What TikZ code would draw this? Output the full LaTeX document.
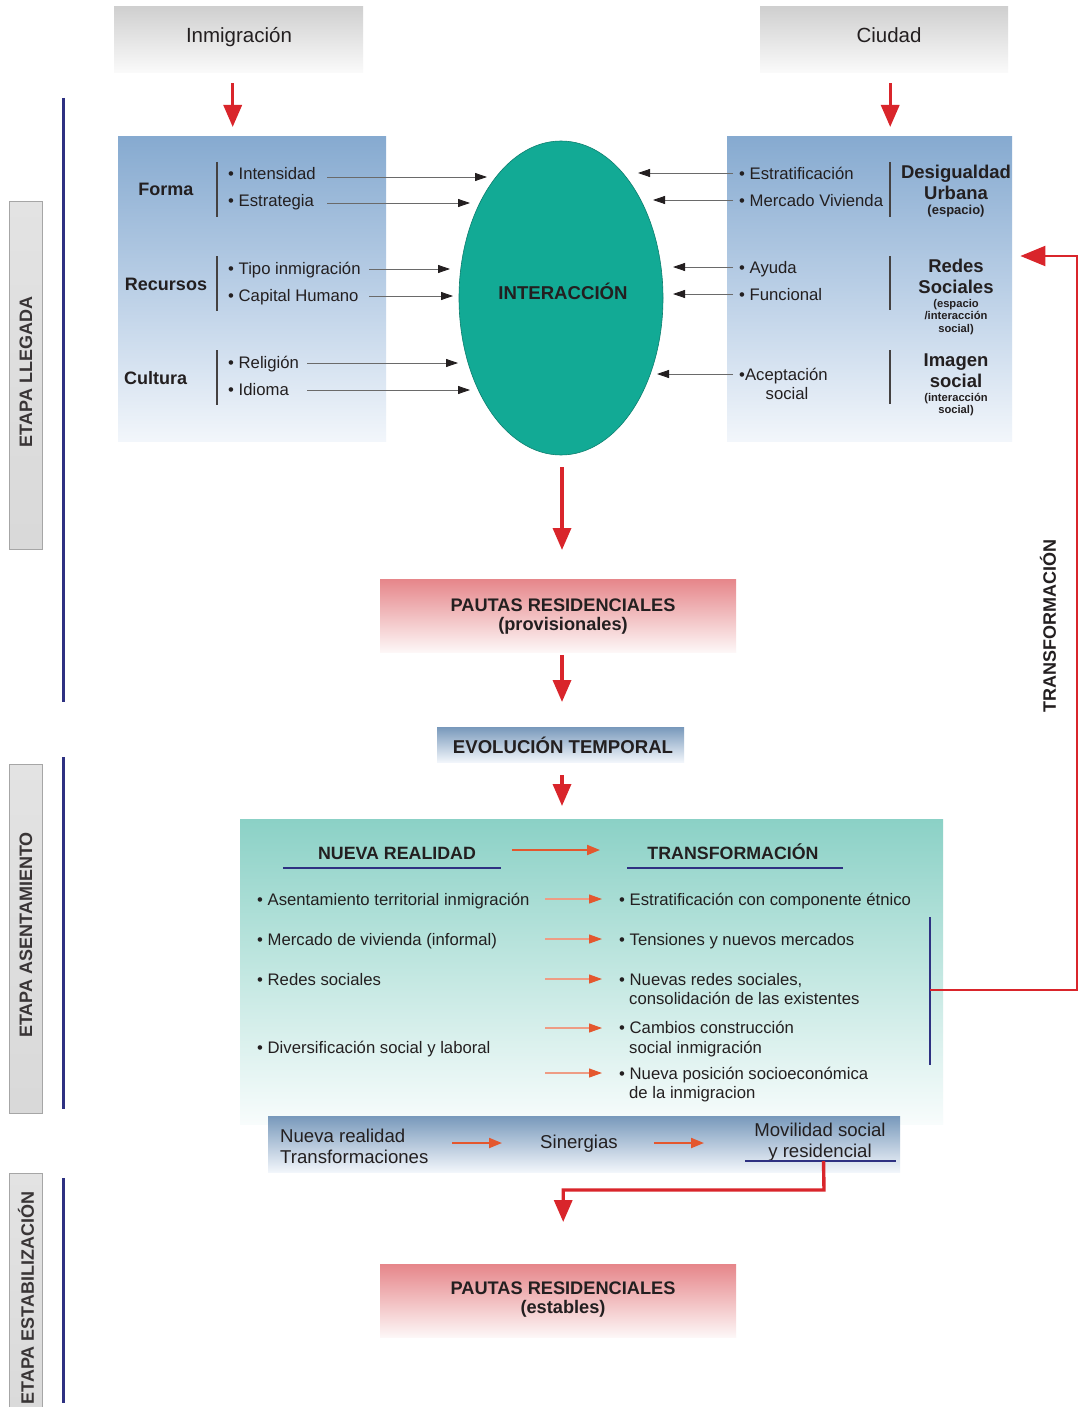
\documentclass[tikz,border=0pt]{standalone}
\usepackage{fontspec}
\setmainfont{Liberation Sans}
\usetikzlibrary{arrows.meta,shapes.geometric,calc}
\definecolor{redA}{HTML}{D9252B}
\definecolor{orangeA}{HTML}{E4572E}
\definecolor{orangeL}{HTML}{EE9C84}
\definecolor{navy}{HTML}{2E3182}
\definecolor{txt}{HTML}{231F20}
\definecolor{blueTop}{HTML}{86AAD0}
\definecolor{blueMid}{HTML}{BACFE6}
\definecolor{blueBot}{HTML}{F2F6FB}
\definecolor{tealTop}{HTML}{8BD1C6}
\definecolor{tealMid}{HTML}{C2E7E1}
\definecolor{tealBot}{HTML}{F8FCFC}
\definecolor{redTop}{HTML}{E6868A}
\definecolor{redBot}{HTML}{FDF7F7}
\definecolor{grayTop}{HTML}{CFCFCF}
\definecolor{grayBot}{HTML}{FAFAFA}
\definecolor{ellFill}{HTML}{12AA95}
\definecolor{ellDraw}{HTML}{0C7F6F}
\definecolor{arrGray}{HTML}{6A6A6A}
\newcommand\myfs[1]{\fontsize{#1pt}{#1pt}\selectfont}
\tikzset{
  boxbase/.style={rectangle, inner sep=0pt, draw=none, anchor=north west},
  graybox/.style={boxbase, top color=grayTop, bottom color=grayBot},
  bluebox/.style={boxbase, top color=blueTop, bottom color=blueBot, middle color=blueMid},
  bluebox2/.style={boxbase, top color=blueTop!90!black, bottom color=blueBot},
  tealbox/.style={boxbase, top color=tealTop, bottom color=tealBot, middle color=tealMid},
  redbox/.style={boxbase, top color=redTop, bottom color=redBot},
  stagebox/.style={rectangle, inner sep=0pt, draw=gray!70, line width=0.8pt, top color=gray!22, bottom color=gray!30},
  txtn/.style={inner sep=0pt, text=txt},
  itm/.style={txtn, anchor=base west, font=\myfs{16.7}},
  itmc/.style={txtn, anchor=base, font=\myfs{16.7}},
  bl/.style={txtn, anchor=base, font=\bfseries\myfs{18}},
  blw/.style={txtn, anchor=base west, font=\bfseries\myfs{18}},
  rl/.style={txtn, anchor=base, font=\bfseries\myfs{18.5}},
  sm/.style={txtn, anchor=base, font=\bfseries\myfs{11.2}},
  reg/.style={txtn, anchor=base, font=\myfs{18.6}},
  regw/.style={txtn, anchor=base west, font=\myfs{18.6}},
  stagetxt/.style={txtn, rotate=90, anchor=center, font=\bfseries\myfs{18}, text=txt!90},
  bigred/.style={draw=redA, line width=3.4pt, -{Triangle[length=22pt,width=18pt]}},
  loopred/.style={draw=redA, line width=2.2pt, -{Triangle[length=25pt,width=20pt]}},
  itmarrow/.style={draw=arrGray, line width=0.8pt, -{Triangle[length=12pt,width=8pt,color=txt]}},
  orarrow/.style={draw=orangeL, line width=1.1pt, -{Triangle[length=13pt,width=9pt,color=orangeA]}},
  orbig/.style={draw=orangeA, line width=2pt, -{Triangle[length=13pt,width=10pt,color=orangeA]}},
  barline/.style={draw=txt!85, line width=1.3pt},
  navyline/.style={draw=navy, line width=2pt},
  stageline/.style={draw=navy, line width=3pt},
}
\begin{document}
\begin{tikzpicture}[x=1pt,y=-1pt]
\clip (0,0) rectangle (1078,1407);
\fill[white] (0,0) rectangle (1078,1407);

% ---------- stage labels ----------
\node[stagebox, minimum width=33, minimum height=348] (s1) at (25.5,375) {};
\node[stagetxt] (s1t) at (26,372) {ETAPA LLEGADA};
\node[stagebox, minimum width=33, minimum height=349] (s2) at (25.5,939) {};
\node[stagetxt] (s2t) at (26,935) {ETAPA ASENTAMIENTO};
\node[stagebox, minimum width=33, minimum height=270] (s3) at (25.5,1308) {};
\node[stagetxt] (s3t) at (26,1298) {ETAPA ESTABILIZACIÓN};
\draw[stageline] (63,98) -- (63,702);
\draw[stageline] (63,757) -- (63,1109);
\draw[stageline] (63,1178) -- (63,1403);

% ---------- top boxes ----------
\node[graybox, minimum width=249, minimum height=66] (inmbox) at (114,6) {};
\node[txtn, anchor=base, font=\myfs{20.5}] (inm) at (239,43) {Inmigración};
\node[graybox, minimum width=248, minimum height=66] (ciubox) at (760,6) {};
\node[txtn, anchor=base, font=\myfs{20.5}] (ciu) at (889,43) {Ciudad};

% ---------- left blue box ----------
\node[bluebox, minimum width=268, minimum height=305] (lbox) at (118,136) {};
\node[bl] (forma) at (166,195.5) {Forma};
\node[bl] (recursos) at (166,290.4) {Recursos};
\node[blw] (cultura) at (124,384.4) {Cultura};
\draw[barline] (217,162) -- (217,217);
\draw[barline] (217,256) -- (217,311);
\draw[barline] (217,350) -- (217,405);
\node[itm] (i1) at (228,179) {\textbullet\ Intensidad};
\node[itm] (i2) at (228,207) {\textbullet\ Estrategia};
\node[itm] (i3) at (228,274) {\textbullet\ Tipo inmigración};
\node[itm] (i4) at (228,301) {\textbullet\ Capital Humano};
\node[itm] (i5) at (228,368) {\textbullet\ Religión};
\node[itm] (i6) at (228,395) {\textbullet\ Idioma};

% ---------- right blue box ----------
\node[bluebox, minimum width=285, minimum height=305] (rbox) at (727,136) {};
\node[itm] (c1) at (739,179) {\textbullet\ Estratificación};
\node[itm] (c2) at (739,207) {\textbullet\ Mercado Vivienda};
\node[itm] (c3) at (739,273) {\textbullet\ Ayuda};
\node[itm] (c4) at (739,300) {\textbullet\ Funcional};
\node[itm] (c5) at (739,380) {\textbullet Aceptación};
\node[itmc] (c6) at (787,399) {social};
\draw[barline] (890,162) -- (890,217);
\draw[barline] (890,256) -- (890,310);
\draw[barline] (890,350) -- (890,404);
\node[rl] (d1) at (956,178.6) {Desigualdad};
\node[rl] (d2) at (956,199.6) {Urbana};
\node[txtn, anchor=base, font=\bfseries\myfs{13}] (d3) at (956,214.7) {(espacio)};
\node[rl] (e1) at (956,272.6) {Redes};
\node[rl] (e2) at (956,293.6) {Sociales};
\node[sm] (e3) at (956,307) {(espacio};
\node[sm] (e4) at (956,319.5) {/interacción};
\node[sm] (e5) at (956,332) {social)};
\node[rl] (f1) at (956,366.6) {Imagen};
\node[rl] (f2) at (956,387.6) {social};
\node[sm] (f3) at (956,401) {(interacción};
\node[sm] (f4) at (956,413.5) {social)};

% ---------- ellipse ----------
\node[ellipse, minimum width=204, minimum height=314, inner sep=0pt, fill=ellFill, draw=ellDraw, line width=0.6pt] (int) at (561,298) {};
\node[txtn, anchor=base, font=\bfseries\myfs{18.6}] (intl) at (563,299.7) {INTERACCIÓN};

% ---------- item arrows ----------
\coordinate (a1s) at (327,177); \coordinate (a1t) at (487,177);
\coordinate (a2s) at (327,203); \coordinate (a2t) at (470,203);
\coordinate (a3s) at (369,269); \coordinate (a3t) at (450,269);
\coordinate (a4s) at (369,296); \coordinate (a4t) at (453,296);
\coordinate (a5s) at (307,363); \coordinate (a5t) at (458,363);
\coordinate (a6s) at (307,390); \coordinate (a6t) at (470,390);
\foreach \k in {1,...,6} { \draw[itmarrow] (a\k s) -- (a\k t); }
\coordinate (b1s) at (733,173); \coordinate (b1t) at (638,173);
\coordinate (b2s) at (733,200); \coordinate (b2t) at (653,200);
\coordinate (b3s) at (733,267); \coordinate (b3t) at (673,267);
\coordinate (b4s) at (733,294); \coordinate (b4t) at (673,294);
\coordinate (b5s) at (733,374); \coordinate (b5t) at (657,374);
\foreach \k in {1,...,5} { \draw[itmarrow] (b\k s) -- (b\k t); }

% ---------- central column ----------
\node[redbox, minimum width=356, minimum height=73] (pp) at (380,579) {};
\node[txtn, anchor=base, font=\bfseries\myfs{18.2}] (ppt1) at (563,611.5) {PAUTAS RESIDENCIALES};
\node[txtn, anchor=base, font=\bfseries\myfs{18.2}] (ppt2) at (563,630) {(provisionales)};
\node[bluebox2, minimum width=247, minimum height=35] (evol) at (437,727) {};
\node[txtn, anchor=base, font=\bfseries\myfs{18.6}] (evolt) at (563,753) {EVOLUCIÓN TEMPORAL};

% ---------- teal box ----------
\node[tealbox, minimum width=703, minimum height=305] (tbox) at (240,819) {};
\node[txtn, anchor=base, font=\bfseries\myfs{17.8}] (nr) at (397,859.4) {NUEVA REALIDAD};
\node[txtn, anchor=base, font=\bfseries\myfs{17.8}] (tr) at (733,859.4) {TRANSFORMACIÓN};
\draw[navyline] (283,868) -- (501,868);
\draw[navyline] (627,868) -- (843,868);
\coordinate (nrs) at (512,850); \coordinate (nrt) at (600,850);
\draw[orbig] (nrs) -- (nrt);
\node[itm] (n1) at (257,905) {\textbullet\ Asentamiento territorial inmigración};
\node[itm] (n2) at (257,945) {\textbullet\ Mercado de vivienda (informal)};
\node[itm] (n3) at (257,985) {\textbullet\ Redes sociales};
\node[itm] (n4) at (257,1053) {\textbullet\ Diversificación social y laboral};
\node[itm] (t1) at (619,905) {\textbullet\ Estratificación con componente étnico};
\node[itm] (t2) at (619,945) {\textbullet\ Tensiones y nuevos mercados};
\node[itm] (t3) at (619,985.5) {\textbullet\ Nuevas redes sociales,};
\node[itm] (t3b) at (629,1004) {consolidación de las existentes};
\node[itm] (t4) at (619,1033) {\textbullet\ Cambios construcción};
\node[itm] (t4b) at (629,1053) {social inmigración};
\node[itm] (t5) at (619,1079) {\textbullet\ Nueva posición socioeconómica};
\node[itm] (t5b) at (629,1098.5) {de la inmigracion};
\coordinate (o1s) at (545,899);  \coordinate (o1t) at (602,899);
\coordinate (o2s) at (545,939);  \coordinate (o2t) at (602,939);
\coordinate (o3s) at (545,979);  \coordinate (o3t) at (602,979);
\coordinate (o4s) at (545,1028); \coordinate (o4t) at (602,1028);
\coordinate (o5s) at (545,1073); \coordinate (o5t) at (602,1073);
\foreach \k in {1,...,5} { \draw[orarrow] (o\k s) -- (o\k t); }
\draw[navyline, line width=2.6pt] (930,917) -- (930,1065);

% ---------- bottom blue box ----------
\node[bluebox2, minimum width=632, minimum height=56] (bbox) at (268,1116) {};
\node[regw] (bb1) at (280,1142.7) {Nueva realidad};
\node[regw] (bb2) at (280,1163.7) {Transformaciones};
\node[reg] (sin) at (579,1148.6) {Sinergias};
\node[reg] (mov1) at (820,1136.7) {Movilidad social};
\node[reg] (mov2) at (820,1157.7) {y residencial};
\coordinate (ul1) at (745,1161); \coordinate (ul2) at (896,1161);
\draw[navyline] (ul1) -- (ul2);
\coordinate (g1s) at (452,1143); \coordinate (g1t) at (502,1143);
\coordinate (g2s) at (654,1143); \coordinate (g2t) at (704,1143);
\draw[orbig] (g1s) -- (g1t);
\draw[orbig] (g2s) -- (g2t);

\node[redbox, minimum width=356, minimum height=73] (pe) at (380,1264) {};
\node[txtn, anchor=base, font=\bfseries\myfs{18.2}] (pet1) at (563,1294) {PAUTAS RESIDENCIALES};
\node[txtn, anchor=base, font=\bfseries\myfs{18.2}] (pet2) at (563,1313) {(estables)};

% ---------- red connectors ----------
\draw[bigred, shorten <=11pt, shorten >=9pt] ([xshift=-6pt]inmbox.south) -- ([xshift=-6pt]inmbox.south |- lbox.north);
\draw[bigred, shorten <=11pt, shorten >=9pt] ([xshift=6pt]ciubox.south) -- ([xshift=6pt]ciubox.south |- rbox.north);
\draw[bigred, shorten <=12pt, shorten >=29pt] ([xshift=1pt]int.south) -- ([xshift=1pt]int.south |- pp.north);
\draw[bigred, shorten <=3pt, shorten >=25pt] ([xshift=1pt]int.south |- pp.south) -- ([xshift=1pt]int.south |- evol.north);
\draw[bigred, shorten <=13pt, shorten >=13pt] ([xshift=1pt]int.south |- evol.south) -- ([xshift=1pt]int.south |- tbox.north);
\coordinate (mv) at ($(ul1)!0.52!(ul2)$);
\coordinate (mvb) at (824,1190);
\draw[bigred, shorten >=42pt] (mv) -- (mvb) -| ([xshift=5pt]pe.north);
\coordinate (tb) at (930,990);
\coordinate (lpc) at (1077,256);
\draw[loopred] (tb) -| (lpc) -- ([xshift=8pt]rbox.east |- lpc);
\node[txtn, rotate=90, anchor=center, font=\bfseries\myfs{18}] (trv) at (1048,626) {TRANSFORMACIÓN};
\end{tikzpicture}
\end{document}
